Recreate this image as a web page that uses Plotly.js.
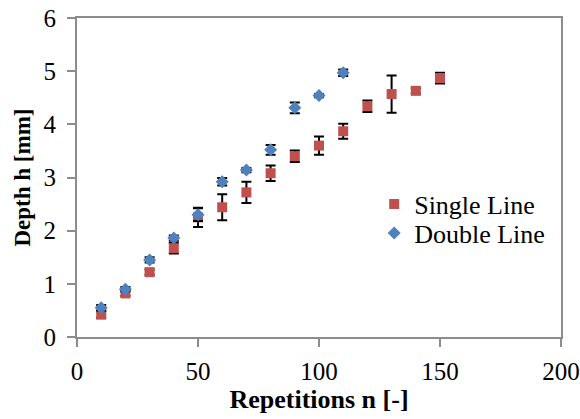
<!DOCTYPE html>
<html>
<head>
<meta charset="utf-8">
<script src="https://cdn.plot.ly/plotly-3.0.1.min.js"></script>
<style>html,body{margin:0;padding:0;background:#fff;}#chart{width:580px;height:419px;}</style>
</head>
<body>
<div id="chart"></div>
<script>
var singleN = [10, 20, 30, 40, 50, 60, 70, 80, 90, 100, 110, 120, 130, 140, 150];
var singleDepth = [0.42, 0.82, 1.22, 1.67, 2.25, 2.44, 2.72, 3.08, 3.40, 3.60, 3.87, 4.34, 4.57, 4.63, 4.87];
var singleErr = [0.06, 0.05, 0.05, 0.10, 0.18, 0.245, 0.20, 0.145, 0.11, 0.17, 0.14, 0.11, 0.35, 0.05, 0.10];

var doubleN = [10, 20, 30, 40, 50, 60, 70, 80, 90, 100, 110];
var doubleDepth = [0.55, 0.90, 1.45, 1.86, 2.30, 2.92, 3.14, 3.52, 4.31, 4.54, 4.97];
var doubleErr = [0.05, 0.04, 0.05, 0.05, 0.12, 0.07, 0.04, 0.09, 0.10, 0.03, 0.06];

var xTicks = [0, 50, 100, 150, 200];
var yTicks = [0, 1, 2, 3, 4, 5, 6];

var font = 'Liberation Serif';

var traces = [
  {
    x: singleN, y: singleDepth, name: 'Single Line', type: 'scatter', mode: 'markers', legend: 'legend',
    marker: {symbol: 'square', size: 10, color: '#C0504D'},
    error_y: {type: 'data', array: singleErr, visible: true, color: '#000', thickness: 2, width: 5}
  },
  {
    x: doubleN, y: doubleDepth, name: 'Double Line', type: 'scatter', mode: 'markers', legend: 'legend2',
    marker: {symbol: 'diamond', size: 10, color: '#4F81BD'},
    error_y: {type: 'data', array: doubleErr, visible: true, color: '#000', thickness: 2, width: 5}
  }
];

var legendFont = {family: font, size: 26, color: '#000'};

var layout = {
  width: 580, height: 419,
  margin: {l: 77, r: 19, t: 18, b: 82},
  paper_bgcolor: '#fff', plot_bgcolor: '#fff',
  font: {family: font, size: 25, color: '#000'},
  showlegend: true,
  legend: {x: 0.614, y: 0.417, xanchor: 'left', yanchor: 'middle', font: legendFont, bgcolor: 'rgba(0,0,0,0)'},
  legend2: {x: 0.614, y: 0.326, xanchor: 'left', yanchor: 'middle', font: legendFont, bgcolor: 'rgba(0,0,0,0)'},
  xaxis: {
    range: [0, 200], tickvals: xTicks, ticktext: xTicks.map(String),
    showgrid: false, zeroline: false, showline: true, linecolor: '#8C8C8C', linewidth: 2, mirror: true,
    ticks: 'outside', ticklen: 8, tickwidth: 2, tickcolor: '#8C8C8C', ticklabelstandoff: 3,
    tickfont: {family: font, size: 25, color: '#000'},
    title: {text: '<b>Repetitions n [-]</b>', font: {family: font, size: 26, color: '#000'}, standoff: 2}
  },
  yaxis: {
    range: [0, 6], tickvals: yTicks, ticktext: yTicks.map(String),
    showgrid: false, zeroline: false, showline: true, linecolor: '#8C8C8C', linewidth: 2, mirror: true,
    ticks: 'outside', ticklen: 8, tickwidth: 2, tickcolor: '#8C8C8C', ticklabelstandoff: 6,
    tickfont: {family: font, size: 25, color: '#000'},
    title: {text: '<b>Depth h [mm]</b>', font: {family: font, size: 23, color: '#000'}, standoff: 6}
  }
};

Plotly.newPlot('chart', traces, layout, {displayModeBar: false, staticPlot: true});
</script>
</body>
</html>
